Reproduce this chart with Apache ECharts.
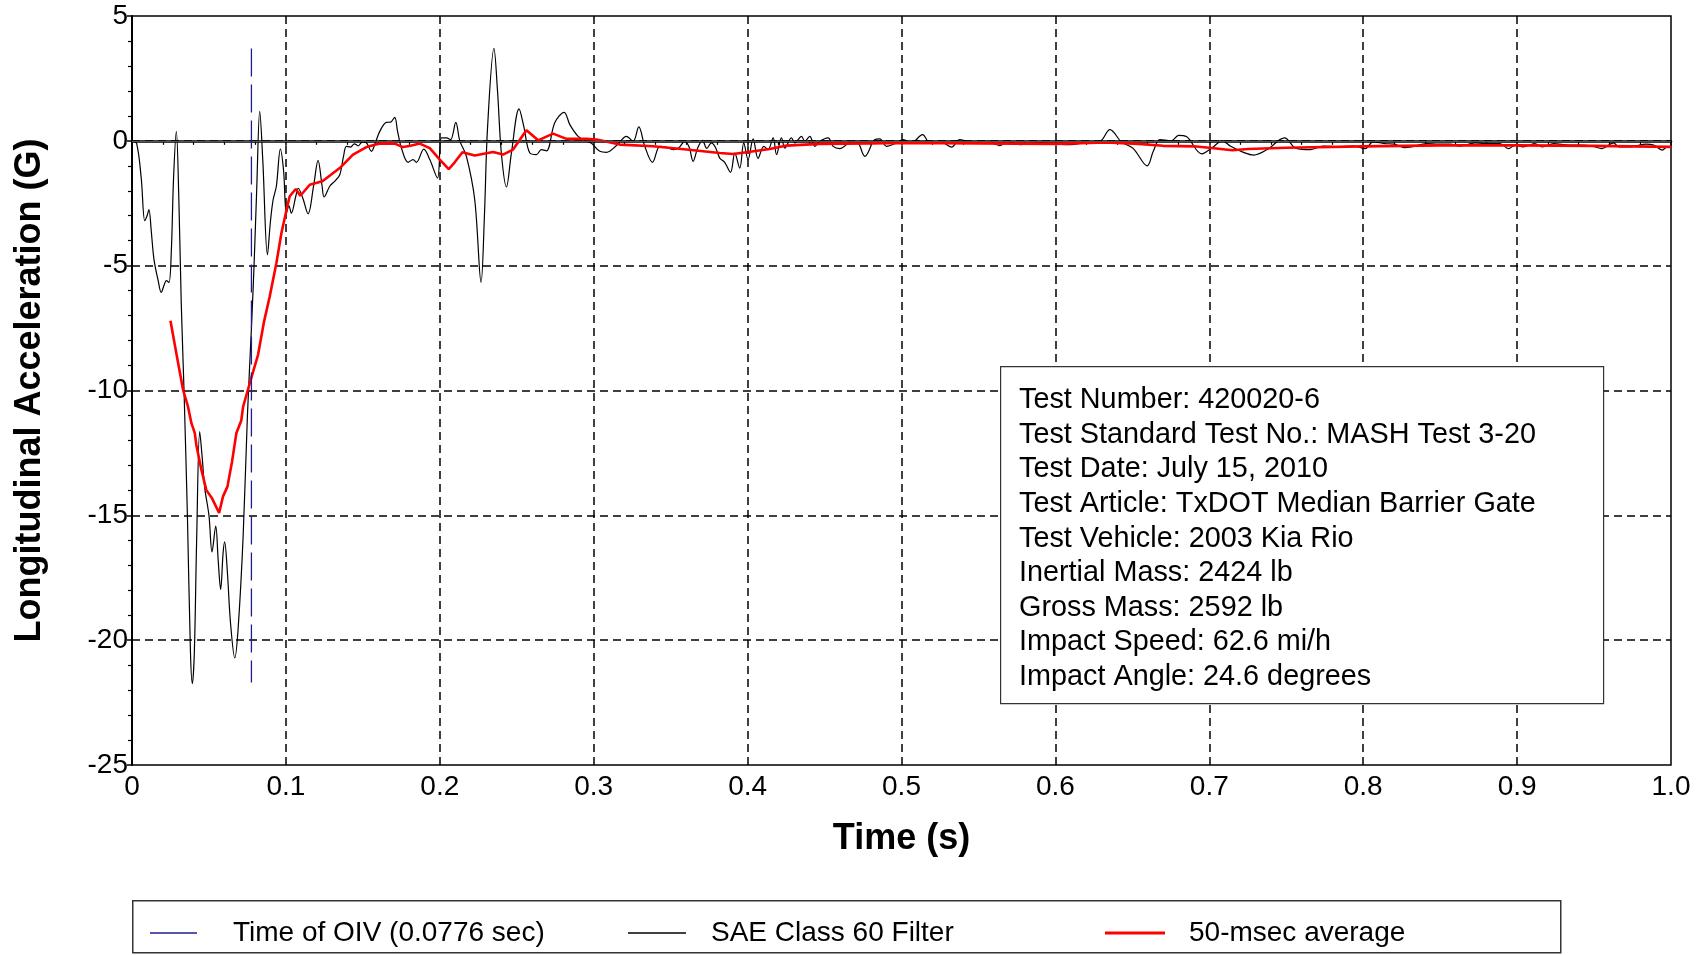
<!DOCTYPE html>
<html>
<head>
<meta charset="utf-8">
<title>Longitudinal Acceleration</title>
<script src="https://cdn.jsdelivr.net/npm/echarts@6/dist/echarts.min.js"></script>
<style>
  html, body { margin: 0; padding: 0; background: #fff; }
  #chart { width: 1703px; height: 955px; }
</style>
</head>
<body>
<div id="chart"></div>
<script>
// SAE Class 60 filtered signal (time s, accel G)
const sae60Time = [
  0, 0.003, 0.006, 0.0083, 0.0098, 0.011, 0.0125, 0.0143, 0.017, 0.019, 0.021, 0.0223, 0.024, 0.0255, 0.027, 0.0288,
  0.0305, 0.032, 0.0338, 0.036, 0.038, 0.0392, 0.0405, 0.042, 0.044, 0.0455, 0.0473, 0.05, 0.052, 0.0544, 0.056, 0.0576,
  0.0592, 0.0602, 0.062, 0.064, 0.0668, 0.069, 0.0722, 0.075, 0.0776, 0.0793, 0.081, 0.083, 0.085, 0.088, 0.09, 0.0917,
  0.0938, 0.0964, 0.0985, 0.1003, 0.102, 0.1035, 0.1065, 0.108, 0.111, 0.1144, 0.118, 0.1209, 0.1235, 0.1248, 0.1285, 0.132,
  0.135, 0.1375, 0.1393, 0.142, 0.1445, 0.147, 0.1495, 0.1519, 0.1556, 0.158, 0.161, 0.1653, 0.168, 0.1707, 0.1725, 0.1751,
  0.1794, 0.1826, 0.1848, 0.1896, 0.1935, 0.1985, 0.2011, 0.2043, 0.207, 0.2104, 0.213, 0.2173, 0.2227, 0.2268, 0.229, 0.231,
  0.2352, 0.2375, 0.24, 0.2433, 0.2465, 0.2515, 0.2545, 0.2585, 0.2628, 0.266, 0.2693, 0.2747, 0.2808, 0.2845, 0.2899, 0.2953,
  0.2986, 0.304, 0.3083, 0.3148, 0.3213, 0.3256, 0.3293, 0.3332, 0.3382, 0.343, 0.347, 0.3516, 0.355, 0.3592, 0.362, 0.3646,
  0.3675, 0.3707, 0.3735, 0.3765, 0.379, 0.3819, 0.385, 0.3889, 0.3917, 0.3949, 0.3975, 0.4003, 0.4036, 0.4068, 0.4105, 0.4133,
  0.4166, 0.4188, 0.422, 0.4242, 0.4285, 0.4307, 0.435, 0.4372, 0.4404, 0.4437, 0.4469, 0.4523, 0.4556, 0.4599, 0.4664, 0.4708,
  0.4762, 0.4827, 0.4859, 0.4903, 0.4968, 0.5011, 0.5065, 0.5137, 0.5184, 0.5249, 0.5325, 0.5379, 0.5466, 0.5563, 0.5639, 0.5683,
  0.5769, 0.5899, 0.5986, 0.6094, 0.6203, 0.6289, 0.6354, 0.643, 0.6505, 0.6596, 0.6636, 0.6679, 0.6752, 0.6801, 0.6851, 0.6951,
  0.7014, 0.7084, 0.7139, 0.7214, 0.7289, 0.7376, 0.7489, 0.7564, 0.7659, 0.7739, 0.7839, 0.7938, 0.8014, 0.8064, 0.8139, 0.8201,
  0.8264, 0.8313, 0.8414, 0.8489, 0.8564, 0.8626, 0.8726, 0.8788, 0.8888, 0.8944, 0.8989, 0.9039, 0.9114, 0.9163, 0.9238, 0.9338,
  0.9414, 0.9489, 0.9551, 0.9626, 0.9663, 0.9739, 0.9839, 0.9888, 0.9943, 0.9976, 1.0
];
const sae60Accel = [
  0, -0.1, -1.5, -3.2, -3.0, -2.75, -3.6, -4.76, -5.6, -6.07, -5.75, -5.6, -5.67, -4.5, -1.5, 0.38,
  -2.5, -6.5, -10, -15, -20.5, -21.74, -20.5, -16, -11.65, -12.6, -13.92, -15.0, -16.46, -15.43, -16.8, -17.97,
  -16.5, -16.06, -17.3, -19.3, -20.71, -19.5, -15.86, -11, -7.5, -5, -2, 1.18, -0.8, -4.56, -3.2, -2.36,
  -1.82, -0.33, -1.2, -2.9, -2.6, -2.9, -2.2, -1.9, -2.3, -2.92, -1.8, -0.78, -1.8, -2.25, -1.82, -1.6,
  -1.36, -0.6, -0.22, -0.25, -0.12, -0.2, -0.05, -0.06, -0.42, -0.1, 0.38, 0.74, 0.75, 0.94, 0.4, -0.29,
  -0.86, -0.75, -0.86, -0.33, -0.75, -1.49, 0.12, 0.12, 0.05, 0.74, 0.0, -0.62, -2.36, -5.67, -3.0, 0.5,
  3.7, 2.0, -0.5, -1.85, -0.5, 1.28, 0.6, -0.49, -0.55, -0.35, -0.4, 0.72, 1.14, 0.65, 0.18, -0.02,
  -0.1, -0.42, -0.46, -0.19, 0.18, -0.02, 0.56, -0.22, -0.86, -0.22, -0.25, -0.35, -0.3, -0.02, -0.25, -0.82,
  -0.3, 0.02, -0.3, -0.08, -0.25, -0.69, -0.85, -1.26, -0.49, -1.09, -0.08, -0.75, 0.08, -0.7, -0.22, -0.35,
  0.12, -0.55, 0.12, -0.29, 0.12, -0.08, 0.18, -0.02, 0.18, -0.22, -0.02, 0.12, -0.22, -0.31, -0.06, -0.02,
  -0.62, 0.05, 0.08, -0.22, -0.08, 0.05, -0.08, 0.25, -0.08, -0.02, -0.25, 0.05, -0.08, -0.02, -0.19, -0.02,
  -0.15, -0.08, -0.12, -0.15, -0.06, -0.02, 0.45, -0.05, -0.3, -1.0, -0.42, 0.05, 0.0, 0.22, 0.17, -0.52,
  -0.3, 0.0, -0.22, -0.44, -0.57, -0.35, 0.12, -0.3, -0.35, -0.21, -0.24, -0.21, -0.31, -0.04, -0.11, -0.13,
  -0.27, -0.24, -0.11, -0.13, -0.13, -0.21, -0.08, -0.11, -0.11, -0.31, -0.17, -0.24, -0.11, -0.24, -0.11, -0.17,
  -0.17, -0.21, -0.31, -0.08, -0.24, -0.24, -0.13, -0.17, -0.37, -0.24, -0.24
];

// 50-msec moving average
const avgTime = [
  0.025, 0.0288, 0.0332, 0.0364, 0.0386, 0.0408, 0.0418, 0.0451, 0.0483, 0.052, 0.0566, 0.0591, 0.062, 0.065, 0.0678, 0.071,
  0.0722, 0.0765, 0.0819, 0.0858, 0.0895, 0.0938, 0.0971, 0.1014, 0.1025, 0.1064, 0.1094, 0.1155, 0.1237, 0.135, 0.1436, 0.1523,
  0.161, 0.1707, 0.1761, 0.181, 0.187, 0.1935, 0.2, 0.2058, 0.2097, 0.2147, 0.2227, 0.2346, 0.2411, 0.2476, 0.2563, 0.2639,
  0.2736, 0.2823, 0.2953, 0.3018, 0.317, 0.3386, 0.3603, 0.3819, 0.3906, 0.3993, 0.4144, 0.4253, 0.4469, 0.48, 0.5, 0.55,
  0.6, 0.633, 0.654, 0.67, 0.69, 0.7, 0.715, 0.725, 0.75, 0.8, 0.85, 0.9, 0.95, 1.0
];
const avgAccel = [
  -7.21, -8.51, -9.98, -10.65, -11.31, -11.71, -12.18, -13.18, -13.99, -14.32, -14.9, -14.25, -13.85, -12.85, -11.71, -11.2,
  -10.65, -9.71, -8.57, -7.24, -6.23, -4.9, -3.69, -2.49, -2.22, -1.93, -2.2, -1.76, -1.62, -1.09, -0.55, -0.25,
  -0.11, -0.11, -0.25, -0.2, -0.11, -0.29, -0.75, -1.13, -0.86, -0.46, -0.59, -0.45, -0.55, -0.35, 0.42, 0.02,
  0.29, 0.08, 0.08, 0.05, -0.15, -0.22, -0.35, -0.49, -0.53, -0.46, -0.33, -0.19, -0.12, -0.1, -0.08, -0.1,
  -0.12, -0.06, -0.12, -0.2, -0.22, -0.28, -0.38, -0.33, -0.28, -0.22, -0.18, -0.18, -0.2, -0.24
];

// time of OIV marker
const oivTime = [0.0776, 0.0776];
const oivAccel = [3.7, -21.7];

const xTickLabels = ["0", "0.1", "0.2", "0.3", "0.4", "0.5", "0.6", "0.7", "0.8", "0.9", "1.0"];
const yTickLabels = ["-25", "-20", "-15", "-10", "-5", "0", "5"];
const seriesNames = ["Time of OIV (0.0776 sec)", "SAE Class 60 Filter", "50-msec average"];

const infoLines = [
  "Test Number: 420020-6",
  "Test Standard Test No.: MASH Test 3-20",
  "Test Date: July 15, 2010",
  "Test Article: TxDOT Median Barrier Gate",
  "Test Vehicle: 2003 Kia Rio",
  "Inertial Mass: 2424 lb",
  "Gross Mass: 2592 lb",
  "Impact Speed: 62.6 mi/h",
  "Impact Angle: 24.6 degrees"
];

const zip = (xs, ys) => xs.map((x, i) => [x, ys[i]]);
const font = "'Liberation Sans', Arial, sans-serif";

const chart = echarts.init(document.getElementById("chart"));

// one legend per item so each can sit where the original has it
function legendAt(name, left, w, h, pad) {
  return {
    data: [name],
    left: left,
    top: 914,
    icon: "rect",
    itemWidth: w,
    itemHeight: h,
    selectedMode: false,
    textStyle: { fontFamily: font, fontSize: 28, color: "#000", padding: [0, 0, 0, pad] }
  };
}

const option = {
  animation: false,
  backgroundColor: "#fff",
  grid: {
    left: 132,
    right: 32,
    top: 16,
    bottom: 190,
    show: true,
    borderColor: "#000",
    borderWidth: 1.5
  },
  legend: [
    legendAt(seriesNames[0], 145, 47, 1.5, 31),
    legendAt(seriesNames[1], 623, 58, 1.5, 20),
    legendAt(seriesNames[2], 1100, 60, 3, 19)
  ],
  xAxis: {
    type: "value",
    min: 0,
    max: 1,
    interval: 0.1,
    name: "Time (s)",
    nameLocation: "middle",
    nameGap: 56,
    nameTextStyle: { fontFamily: font, fontSize: 36, fontWeight: "bold", color: "#000" },
    axisLine: { show: true, lineStyle: { color: "#000", width: 2.5 } },
    axisTick: { show: true, length: 5, lineStyle: { color: "#000", width: 1.5 } },
    minorTick: { show: true, splitNumber: 5, length: 4, lineStyle: { color: "#000", width: 1.2 } },
    axisLabel: {
      margin: 8,
      fontFamily: font,
      fontSize: 28,
      color: "#000",
      formatter: (v, i) => xTickLabels[i]
    },
    splitLine: {
      show: true,
      showMinLine: false,
      showMaxLine: false,
      lineStyle: { color: "#000", width: 1.5, type: [8, 5] }
    }
  },
  yAxis: {
    type: "value",
    min: -25,
    max: 5,
    interval: 5,
    name: "Longitudinal Acceleration (G)",
    nameLocation: "middle",
    nameGap: 84,
    nameTextStyle: { fontFamily: font, fontSize: 36, fontWeight: "bold", color: "#000" },
    axisLine: { show: true, lineStyle: { color: "#000", width: 2 } },
    axisTick: { show: true, length: 5, lineStyle: { color: "#000", width: 1.5 } },
    minorTick: { show: true, splitNumber: 5, length: 4, lineStyle: { color: "#000", width: 1.2 } },
    axisLabel: {
      margin: 4,
      fontFamily: font,
      fontSize: 28,
      color: "#000",
      formatter: (v, i) => yTickLabels[i]
    },
    splitLine: {
      show: true,
      showMinLine: false,
      showMaxLine: false,
      lineStyle: { color: "#000", width: 1.5, type: [8, 5] }
    }
  },
  series: [
    {
      name: seriesNames[1],
      type: "line",
      data: zip(sae60Time, sae60Accel),
      showSymbol: false,
      symbol: "none",
      smooth: 0.35,
      lineStyle: { color: "#000", width: 1.2 },
      itemStyle: { color: "#000" },
      markLine: {
        silent: true,
        symbol: "none",
        label: { show: false },
        lineStyle: { color: "#555", width: 1.2, type: "solid" },
        data: [{ yAxis: 0 }]
      },
      z: 3
    },
    {
      name: seriesNames[2],
      type: "line",
      data: zip(avgTime, avgAccel),
      showSymbol: false,
      symbol: "none",
      lineStyle: { color: "#ff0000", width: 2.6 },
      itemStyle: { color: "#ff0000" },
      z: 4
    },
    {
      name: seriesNames[0],
      type: "line",
      data: zip(oivTime, oivAccel),
      showSymbol: false,
      symbol: "none",
      lineStyle: { color: "#1c1c8e", width: 1.3, type: [28, 8] },
      itemStyle: { color: "#1c1c8e" },
      z: 5
    }
  ],
  graphic: [
    {
      // info box
      type: "rect",
      left: 1000,
      top: 366,
      z: 100,
      shape: { width: 603, height: 337 },
      style: { fill: "#fff", stroke: "#333", lineWidth: 1.2 }
    },
    {
      type: "text",
      left: 1019,
      top: 383,
      z: 101,
      style: {
        text: infoLines.join("\n"),
        font: "28.8px " + font,
        lineHeight: 34.6,
        fill: "#000"
      }
    },
    {
      // legend frame
      type: "rect",
      left: 132,
      top: 900,
      z: -1,
      shape: { width: 1428, height: 52 },
      style: { fill: "#fff", stroke: "#333", lineWidth: 1.5 }
    }
  ]
};

chart.setOption(option);
</script>
</body>
</html>
